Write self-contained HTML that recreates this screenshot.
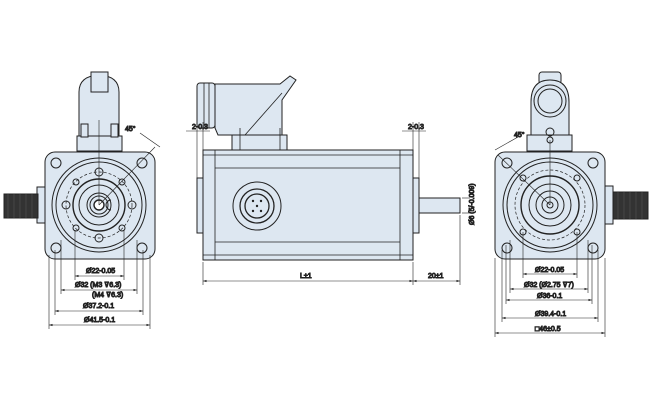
<!DOCTYPE html>
<html><head><meta charset="utf-8"><style>
html,body{margin:0;padding:0;background:#fff;}
svg{display:block}
text{font-family:"Liberation Sans",sans-serif;font-size:7px;fill:#222}
</style></head><body>
<svg width="650" height="410" viewBox="0 0 650 410" xmlns="http://www.w3.org/2000/svg" stroke="#222" stroke-width="1" fill="none">
<defs>
<marker id="a" markerWidth="6" markerHeight="6" refX="6" refY="3" orient="auto-start-reverse"><path d="M0,1 L6,3 L0,5 Z" fill="#222" stroke="none"/></marker>
</defs>
<!-- ===== LEFT VIEW ===== -->
<g fill="#dde7f1">
<path d="M79,138 L79,92 Q79,76 99,75 Q119,76 119,92 L119,138 Z"/>
<rect x="91" y="72" width="17" height="20"/>
<rect x="77" y="136" width="45" height="15"/>
<rect x="81" y="124" width="7" height="13"/>
<rect x="111" y="124" width="7" height="13"/>
<rect x="37" y="187" width="8" height="36"/>
<rect x="4" y="194" width="34" height="24" fill="#333"/>
<rect x="45" y="152" width="110" height="107" rx="10"/>
</g>
<g stroke="#555" stroke-width="0.6">
<line x1="8" y1="194" x2="8" y2="218"/><line x1="14" y1="194" x2="14" y2="218"/><line x1="20" y1="194" x2="20" y2="218"/><line x1="26" y1="194" x2="26" y2="218"/><line x1="32" y1="194" x2="32" y2="218"/>
</g>
<g>
<circle cx="99" cy="205" r="47"/>
<circle cx="99" cy="205" r="43"/>
<circle cx="99" cy="205" r="33" stroke-dasharray="3,2" stroke-width="0.7"/>
<circle cx="99" cy="205" r="26" stroke-width="1.4"/>
<circle cx="99" cy="205" r="20"/>
<circle cx="99" cy="205" r="12"/>
<circle cx="99" cy="205" r="9"/>
<circle cx="99" cy="205" r="5" stroke-width="1.4" fill="#fff"/>
<path d="M111,200 a5,5 0 1,0 0,10"/>
<circle cx="99" cy="172" r="4"/><circle cx="99" cy="238" r="4"/><circle cx="66" cy="205" r="4"/><circle cx="132" cy="205" r="4"/>
<circle cx="76" cy="182" r="3"/><circle cx="122" cy="182" r="3"/><circle cx="76" cy="228" r="3"/><circle cx="122" cy="228" r="3"/>
<circle cx="56" cy="163" r="5"/><circle cx="142" cy="163" r="5"/><circle cx="56" cy="248" r="5"/><circle cx="142" cy="248" r="5"/>
<line x1="99" y1="120" x2="99" y2="205" stroke-width="0.6"/>
<line x1="99" y1="205" x2="155" y2="147" stroke-width="0.6"/>
<line x1="140" y1="133" x2="160" y2="147" stroke-width="0.6"/>
</g>
<text x="125" y="131">45°</text>
<g stroke-width="0.6">
<line x1="75" y1="230" x2="75" y2="280"/><line x1="124" y1="230" x2="124" y2="280"/>
<line x1="61" y1="240" x2="61" y2="294"/><line x1="137" y1="240" x2="137" y2="294"/>
<line x1="55" y1="250" x2="55" y2="315"/><line x1="143" y1="250" x2="143" y2="315"/>
<line x1="49" y1="255" x2="49" y2="329"/><line x1="150" y1="255" x2="150" y2="329"/>
<line x1="75" y1="276" x2="124" y2="276" marker-start="url(#a)" marker-end="url(#a)"/>
<line x1="61" y1="290" x2="137" y2="290" marker-start="url(#a)" marker-end="url(#a)"/>
<line x1="55" y1="311" x2="143" y2="311" marker-start="url(#a)" marker-end="url(#a)"/>
<line x1="49" y1="325" x2="150" y2="325" marker-start="url(#a)" marker-end="url(#a)"/>
</g>
<text x="86" y="273">Ø22-0.05</text>
<text x="75" y="287">Ø32 (M3 ⊽6.3)</text>
<text x="92" y="297">(M4 ⊽6.3)</text>
<text x="83" y="308">Ø37.2-0.1</text>
<text x="84" y="322">Ø41.5-0.1</text>
<!-- ===== MIDDLE VIEW ===== -->
<g fill="#dde7f1">
<path d="M215,84 L280,84 L290,76 L296,80 L282,100 L282,135 L218,135 L215,128 Z"/>
<rect x="197" y="83" width="18" height="45" rx="3"/>
<rect x="232" y="135" width="55" height="15"/>
<rect x="197" y="178" width="7" height="55"/>
<rect x="203" y="150" width="210" height="110"/>
<rect x="413" y="178" width="6" height="55"/>
<rect x="419" y="198" width="41" height="15"/>
</g>
<g stroke-width="0.8">
<line x1="204" y1="83" x2="204" y2="128"/><line x1="209" y1="83" x2="209" y2="128"/>
<line x1="245" y1="135" x2="282" y2="93"/>
<line x1="203" y1="155" x2="413" y2="155"/><line x1="215" y1="168" x2="400" y2="168"/>
<line x1="215" y1="242" x2="400" y2="242"/><line x1="203" y1="255" x2="413" y2="255"/>
<line x1="215" y1="150" x2="215" y2="260"/><line x1="400" y1="150" x2="400" y2="260"/>
<line x1="240" y1="128" x2="240" y2="150"/><line x1="280" y1="128" x2="280" y2="150"/>
</g>
<circle cx="257" cy="206" r="24"/>
<circle cx="257" cy="206" r="17" stroke-width="1.3"/>
<circle cx="257" cy="206" r="12" stroke-width="1.3"/>
<g fill="#222" stroke="none"><circle cx="253" cy="201" r="1.2"/><circle cx="261" cy="201" r="1.2"/><circle cx="253" cy="211" r="1.2"/><circle cx="261" cy="211" r="1.2"/><circle cx="257" cy="206" r="1.2"/></g>
<g stroke-width="0.6">
<line x1="203" y1="262" x2="203" y2="285"/><line x1="413" y1="262" x2="413" y2="285"/><line x1="460" y1="215" x2="460" y2="285"/>
<line x1="203" y1="281" x2="413" y2="281" marker-start="url(#a)" marker-end="url(#a)"/>
<line x1="413" y1="281" x2="460" y2="281" marker-start="url(#a)" marker-end="url(#a)"/>
<line x1="197" y1="122" x2="197" y2="178"/><line x1="203" y1="122" x2="203" y2="150"/>
<line x1="186" y1="131" x2="210" y2="131"/>
<line x1="413" y1="122" x2="413" y2="150"/><line x1="419" y1="122" x2="419" y2="178"/>
<line x1="402" y1="131" x2="426" y2="131"/>
<line x1="462" y1="198" x2="470" y2="198"/><line x1="462" y1="213" x2="470" y2="213"/>
</g>
<text x="300" y="278">L±1</text>
<text x="428" y="278">20±1</text>
<text x="192" y="129">2-0.3</text>
<text x="408" y="129">2-0.3</text>
<text transform="translate(474,225) rotate(-90)">Ø6 (5/-0.009)</text>
<!-- ===== RIGHT VIEW ===== -->
<g fill="#dde7f1">
<rect x="539" y="72" width="22" height="12" rx="3"/>
<path d="M531,137 L531,102 Q531,80 550,80 Q569,80 569,102 L569,137 Z"/>
<rect x="527" y="135" width="45" height="16"/>
<rect x="605" y="186" width="8" height="38"/>
<rect x="613" y="192" width="35" height="27" fill="#333"/>
<rect x="495" y="152" width="110" height="107" rx="10"/>
</g>
<g stroke="#555" stroke-width="0.6">
<line x1="618" y1="192" x2="618" y2="219"/><line x1="624" y1="192" x2="624" y2="219"/><line x1="630" y1="192" x2="630" y2="219"/><line x1="636" y1="192" x2="636" y2="219"/><line x1="642" y1="192" x2="642" y2="219"/>
</g>
<circle cx="550" cy="101" r="16"/><circle cx="550" cy="101" r="12"/>
<circle cx="550" cy="132" r="4"/><circle cx="550" cy="140" r="3"/>
<g>
<circle cx="550" cy="205" r="47"/>
<circle cx="550" cy="205" r="43"/>
<circle cx="550" cy="205" r="35" stroke-dasharray="3,2" stroke-width="0.7"/>
<circle cx="550" cy="205" r="29" stroke-width="1.4"/>
<circle cx="550" cy="205" r="21"/>
<circle cx="550" cy="205" r="14"/>
<circle cx="550" cy="205" r="8"/>
<circle cx="550" cy="205" r="3"/>
<circle cx="523" cy="178" r="3"/><circle cx="577" cy="178" r="3"/><circle cx="523" cy="232" r="3"/><circle cx="577" cy="232" r="3"/>
<circle cx="507" cy="163" r="5"/><circle cx="593" cy="163" r="5"/><circle cx="507" cy="248" r="5"/><circle cx="593" cy="248" r="5"/>
<line x1="550" y1="140" x2="550" y2="205" stroke-width="0.6"/>
<line x1="550" y1="205" x2="498" y2="155" stroke-width="0.6"/>
<line x1="495" y1="150" x2="518" y2="137" stroke-width="0.6"/>
</g>
<text x="514" y="137">45°</text>
<g stroke-width="0.6">
<line x1="523" y1="232" x2="523" y2="278"/><line x1="577" y1="232" x2="577" y2="278"/>
<line x1="510" y1="240" x2="510" y2="293"/><line x1="588" y1="240" x2="588" y2="293"/>
<line x1="506" y1="245" x2="506" y2="304"/><line x1="592" y1="245" x2="592" y2="304"/>
<line x1="502" y1="250" x2="502" y2="322"/><line x1="598" y1="250" x2="598" y2="322"/>
<line x1="495" y1="258" x2="495" y2="337"/><line x1="605" y1="258" x2="605" y2="337"/>
<line x1="523" y1="274" x2="577" y2="274" marker-start="url(#a)" marker-end="url(#a)"/>
<line x1="510" y1="289" x2="588" y2="289" marker-start="url(#a)" marker-end="url(#a)"/>
<line x1="506" y1="300" x2="592" y2="300" marker-start="url(#a)" marker-end="url(#a)"/>
<line x1="502" y1="318" x2="598" y2="318" marker-start="url(#a)" marker-end="url(#a)"/>
<line x1="495" y1="333" x2="605" y2="333" marker-start="url(#a)" marker-end="url(#a)"/>
</g>
<text x="535" y="272">Ø22-0.05</text>
<text x="524" y="287">Ø32 (Ø2.75 ⊽7)</text>
<text x="537" y="298">Ø36-0.1</text>
<text x="535" y="316">Ø39.4-0.1</text>
<text x="535" y="331">□46±0.5</text>
</svg>
</body></html>
